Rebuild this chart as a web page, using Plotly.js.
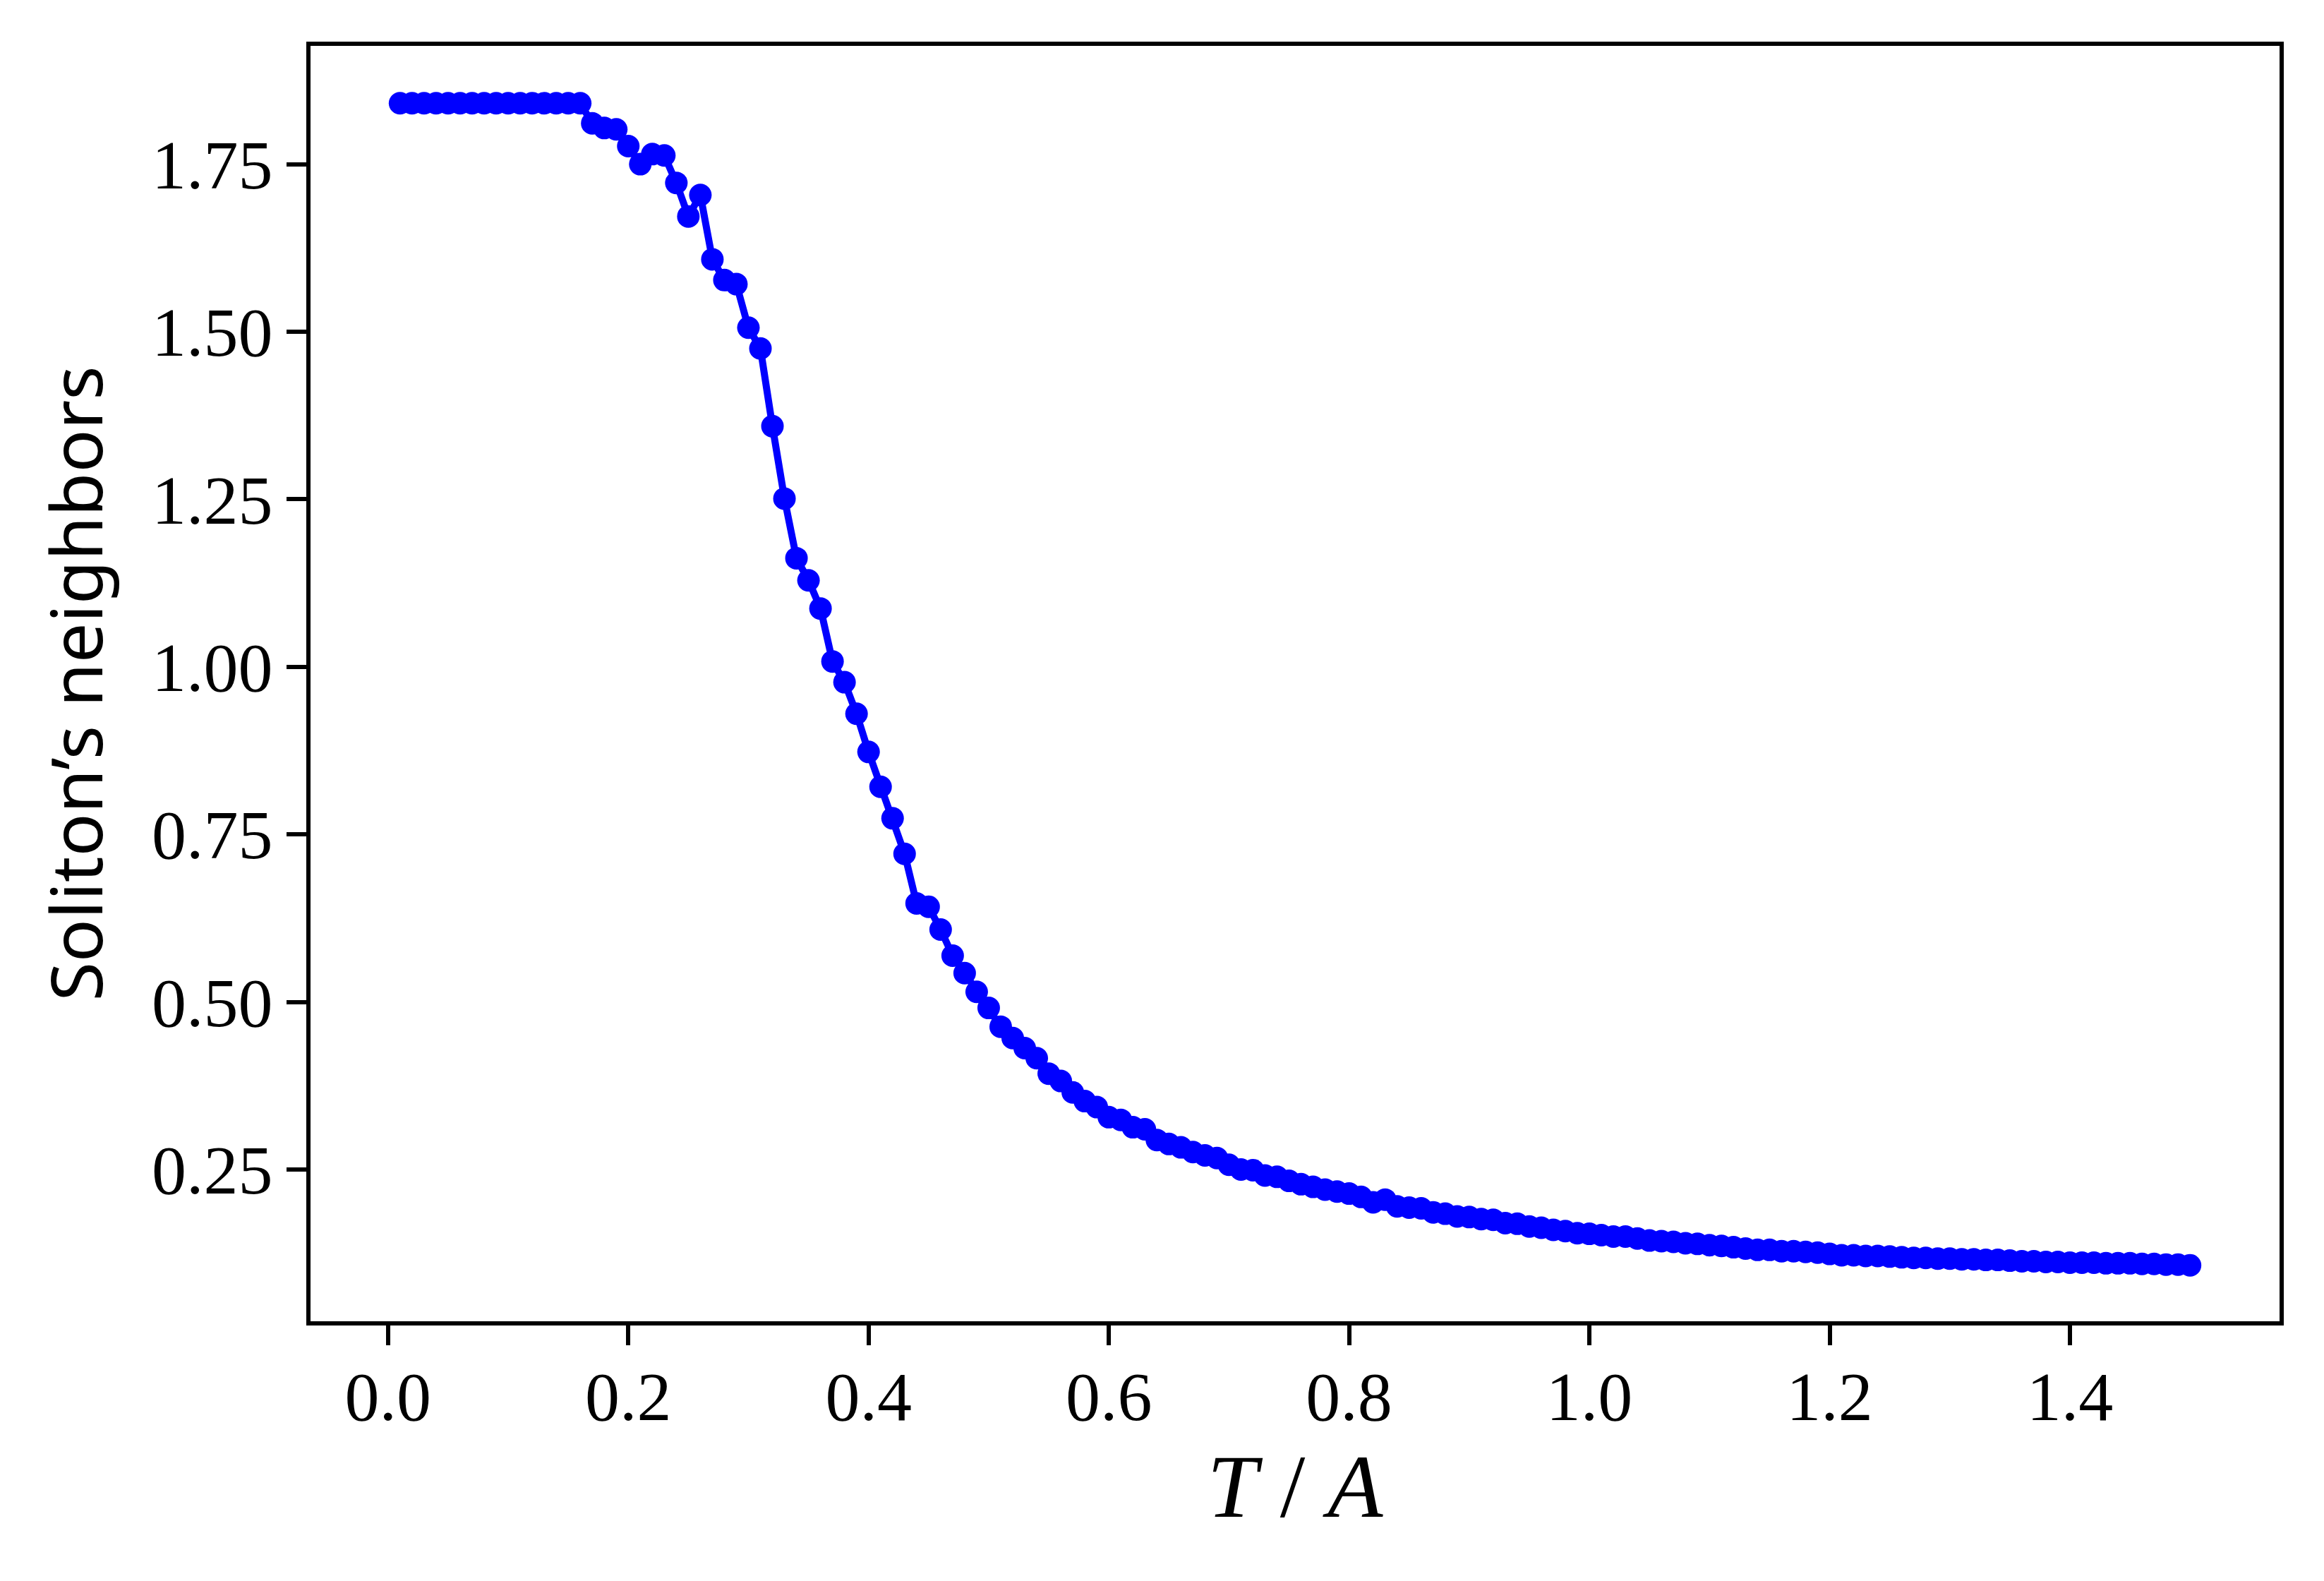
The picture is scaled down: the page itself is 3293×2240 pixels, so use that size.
<!DOCTYPE html>
<html>
<head>
<meta charset="utf-8">
<script src="https://cdn.plot.ly/plotly-3.0.1.min.js"></script>
<style>html,body{margin:0;padding:0;background:#fff;}#chart{width:3293px;height:2240px;}</style>
</head>
<body>
<div id="chart"></div>
<script>
const temperature = [
  0.01,0.02,0.03,0.04,0.05,0.06,0.07,0.08,0.09,0.10,
  0.11,0.12,0.13,0.14,0.15,0.16,0.17,0.18,0.19,0.20,
  0.21,0.22,0.23,0.24,0.25,0.26,0.27,0.28,0.29,0.30,
  0.31,0.32,0.33,0.34,0.35,0.36,0.37,0.38,0.39,0.40,
  0.41,0.42,0.43,0.44,0.45,0.46,0.47,0.48,0.49,0.50,
  0.51,0.52,0.53,0.54,0.55,0.56,0.57,0.58,0.59,0.60,
  0.61,0.62,0.63,0.64,0.65,0.66,0.67,0.68,0.69,0.70,
  0.71,0.72,0.73,0.74,0.75,0.76,0.77,0.78,0.79,0.80,
  0.81,0.82,0.83,0.84,0.85,0.86,0.87,0.88,0.89,0.90,
  0.91,0.92,0.93,0.94,0.95,0.96,0.97,0.98,0.99,1.00,
  1.01,1.02,1.03,1.04,1.05,1.06,1.07,1.08,1.09,1.10,
  1.11,1.12,1.13,1.14,1.15,1.16,1.17,1.18,1.19,1.20,
  1.21,1.22,1.23,1.24,1.25,1.26,1.27,1.28,1.29,1.30,
  1.31,1.32,1.33,1.34,1.35,1.36,1.37,1.38,1.39,1.40,
  1.41,1.42,1.43,1.44,1.45,1.46,1.47,1.48,1.49,1.50
];
const neighbors = [
  1.841,1.841,1.841,1.841,1.841,1.841,1.841,1.841,1.841,1.841,
  1.841,1.841,1.841,1.841,1.841,1.841,1.811,1.804,1.802,1.777,
  1.750,1.765,1.763,1.722,1.672,1.704,1.608,1.577,1.571,1.506,
  1.475,1.359,1.251,1.162,1.129,1.087,1.008,0.977,0.930,0.873,
  0.821,0.774,0.721,0.647,0.642,0.608,0.569,0.543,0.515,0.491,
  0.463,0.446,0.431,0.416,0.393,0.382,0.365,0.352,0.343,0.328,
  0.324,0.313,0.310,0.294,0.288,0.283,0.276,0.271,0.267,0.257,
  0.250,0.249,0.241,0.239,0.233,0.228,0.224,0.220,0.217,0.214,
  0.209,0.201,0.205,0.195,0.193,0.192,0.186,0.184,0.180,0.179,
  0.176,0.175,0.170,0.169,0.165,0.163,0.160,0.158,0.155,0.154,
  0.152,0.150,0.150,0.147,0.144,0.143,0.142,0.140,0.139,0.137,
  0.136,0.134,0.132,0.130,0.130,0.128,0.128,0.127,0.126,0.124,
  0.122,0.122,0.121,0.121,0.120,0.119,0.118,0.118,0.117,0.117,
  0.116,0.116,0.115,0.115,0.114,0.113,0.113,0.112,0.112,0.111,
  0.111,0.111,0.110,0.110,0.110,0.109,0.109,0.108,0.108,0.107
];
const xTickVals = [0.0,0.2,0.4,0.6,0.8,1.0,1.2,1.4];
const xTickText = ["0.0","0.2","0.4","0.6","0.8","1.0","1.2","1.4"];
const yTickVals = [0.25,0.50,0.75,1.00,1.25,1.50,1.75];
const yTickText = ["0.25","0.50","0.75","1.00","1.25","1.50","1.75"];

const serif = "Liberation Serif, DejaVu Serif, serif";

const trace = {
  x: temperature,
  y: neighbors,
  type: "scatter",
  mode: "lines+markers",
  line: {color: "#0000ff", width: 10},
  marker: {color: "#0000ff", size: 32, line: {width: 0}},
  showlegend: false,
  hoverinfo: "x+y"
};

const axisCommon = {
  showgrid: false,
  zeroline: false,
  showline: true,
  mirror: true,
  linecolor: "#000",
  linewidth: 6,
  ticks: "outside",
  ticklen: 28,
  tickwidth: 6,
  tickcolor: "#000",
  tickfont: {family: serif, size: 98, color: "#000"},
  automargin: false
};

const layout = {
  width: 3293,
  height: 2240,
  paper_bgcolor: "#fff",
  plot_bgcolor: "#fff",
  margin: {l: 440, r: 63, t: 65, b: 368, pad: 0},
  xaxis: Object.assign({}, axisCommon, {
    range: [-0.0645, 1.5745],
    tickmode: "array",
    tickvals: xTickVals,
    ticktext: xTickText,
    ticklabelstandoff: -12,
    title: {text: "<i>T</i> / <i>A</i>", font: {family: serif, size: 128, color: "#000"}, standoff: 30}
  }),
  yaxis: Object.assign({}, axisCommon, {
    range: [0.0235, 1.9265],
    tickmode: "array",
    tickvals: yTickVals,
    ticktext: yTickText,
    title: {text: "Soliton’s neighbors", font: {family: "Noto Sans, DejaVu Sans, sans-serif", size: 101, color: "#000"}, standoff: 38}
  })
};

Plotly.newPlot("chart", [trace], layout, {staticPlot: true, displayModeBar: false});
</script>
</body>
</html>
